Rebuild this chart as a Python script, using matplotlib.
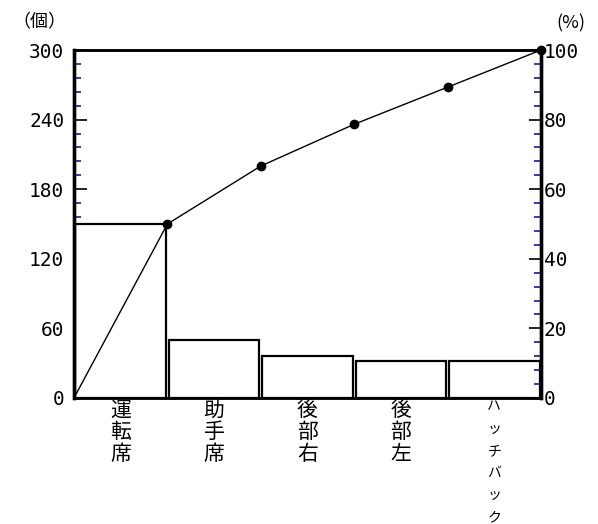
import numpy as np
import matplotlib.pyplot as plt

plt.rcParams['font.family'] = ['Noto Sans CJK JP', 'DejaVu Sans']

# 部位ごとの件数
categories = ["運転席", "助手席", "後部右", "後部左", "ハッチバック"]
counts = [150, 50, 36, 32, 32]
left_ticks = [0, 60, 120, 180, 240, 300]
right_ticks = [0, 20, 40, 60, 80, 100]

total = sum(counts)
cum_pct = np.concatenate([[0], np.cumsum(counts) / total * 100])

fig = plt.figure(figsize=(5.98, 5.24), dpi=100)
ax = fig.add_axes([0.1237, 0.2405, 0.781, 0.664])
ax2 = ax.twinx()

x = np.arange(len(categories))
ax.bar(x, counts, width=0.97, color="white", edgecolor="black", linewidth=1.6, zorder=2)
ax.set_xlim(-0.5, len(categories) - 0.5)
ax.set_ylim(0, 300)

# 累積比率の折れ線
xs = np.arange(len(categories) + 1) - 0.5
ax2.plot(xs, cum_pct, color="black", lw=1.0, zorder=3)
ax2.plot(xs[1:], cum_pct[1:], "o", color="black", ms=6, clip_on=False, zorder=4)
ax2.set_ylim(0, 100)

# 目盛り
num_font = {"family": "DejaVu Sans Mono", "size": 14}
minor_col = "#1414b0"
ax.set_yticks(left_ticks)
ax.set_yticklabels([str(v) for v in left_ticks], fontdict=num_font)
ax.set_yticks(np.arange(0, 301, 12), minor=True)
ax.tick_params(axis="y", which="major", direction="in", length=9, width=1.2, color="black", pad=7)
ax.tick_params(axis="y", which="minor", direction="in", length=5, width=1.2, color=minor_col)

ax2.set_yticks(right_ticks)
ax2.set_yticklabels([str(v) for v in right_ticks], fontdict=num_font)
ax2.set_yticks(np.arange(0, 101, 4), minor=True)
ax2.tick_params(axis="y", which="major", direction="in", length=9, width=1.2, color="black", pad=2)
ax2.tick_params(axis="y", which="minor", direction="in", length=5, width=1.2, color=minor_col)

ax.set_xticks(x)
ax.set_xticklabels(["\n".join(c) for c in categories], fontsize=15, linespacing=1.0)
ax.tick_params(axis="x", length=0, pad=1)
lbl = ax.get_xticklabels()[-1]
lbl.set_fontsize(10)
lbl.set_linespacing(1.75)

for a in (ax, ax2):
    a.spines["left"].set_linewidth(2.4)
    a.spines["right"].set_linewidth(2.4)
    a.spines["top"].set_linewidth(1.8)
    a.spines["bottom"].set_linewidth(1.8)

fig.text(0.02, 0.958, "（個）", fontsize=13, va="center", ha="left")
fig.text(0.93, 0.955, "(%)", fontsize=13, va="center", ha="left")

fig.savefig("out.png", dpi=100)
